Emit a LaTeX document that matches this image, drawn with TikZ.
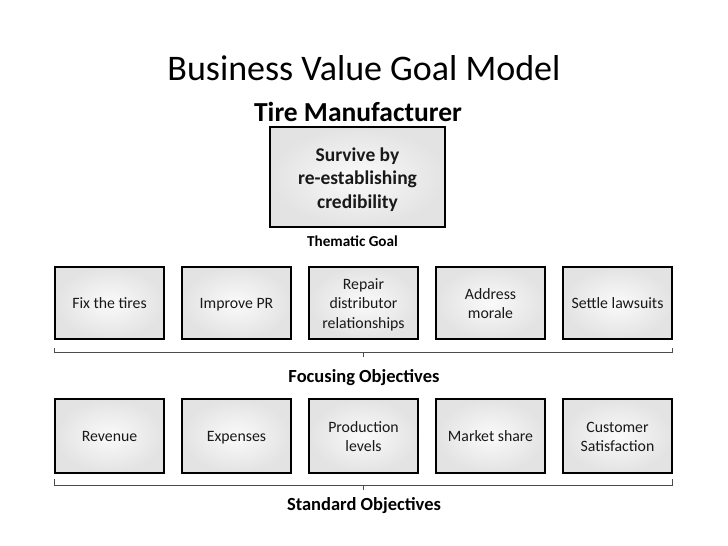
\documentclass[tikz,border=0pt]{standalone}
\usepackage{fontspec}
\setmainfont{Carlito}
\newcommand{\bstr}{\rule[-3.9pt]{0pt}{19.5pt}}
\newcommand{\tstr}{\rule[-4.2pt]{0pt}{23.5pt}}
\begin{document}
\begin{tikzpicture}[x=1pt,y=-1pt,
  box/.style={draw=black,line width=1.8pt,minimum width=109pt,minimum height=72pt,
    inner sep=0pt,align=center,inner color=gray!4,outer color=gray!22,
    font=\fontsize{15.8}{19.5}\selectfont,text=black!90},
  topbox/.style={box,minimum width=175pt,minimum height=100pt,
    font=\fontsize{19.5}{23.5}\selectfont\bfseries},
  lbl/.style={font=\fontsize{18.5}{22}\selectfont\bfseries,inner sep=0pt},
  bracket/.style={draw=black!70,line width=0.9pt}]
\useasboundingbox (0,0) rectangle (728,546);
\node[font=\fontsize{36}{40}\selectfont,inner sep=0pt] (title) at (364,68) {Business Value Goal Model};
\node[font=\fontsize{27.5}{31}\selectfont\bfseries,inner sep=0pt] (sub) at (358,112) {Tire Manufacturer};
\node[topbox] (goal) at (357.5,177) {\tstr Survive by\\\tstr re-establishing\\\tstr credibility};
\node[lbl,font=\fontsize{15.2}{18}\selectfont\bfseries] (goallbl) at (352.5,241) {Thematic Goal};
% focusing objectives
\node[box] (f1) at (109.5,303) {\bstr Fix the tires};
\node[box] (f2) at (236.5,303) {\bstr Improve PR};
\node[box] (f3) at (363.5,303) {\bstr Repair\\\bstr distributor\\\bstr relationships};
\node[box] (f4) at (490.5,303) {\bstr Address\\\bstr morale};
\node[box] (f5) at (617.5,303) {\bstr Settle lawsuits};
\draw[bracket] ([yshift=-8pt]f1.south west) -- ([yshift=-13pt]f1.south west) -- ([yshift=-13pt]f5.south east) -- ([yshift=-8pt]f5.south east);
\draw[bracket] ([yshift=-13pt]f3.south) -- ([yshift=-17pt]f3.south);
\node[lbl] (flbl) at (364,378) {Focusing Objectives};
% standard objectives
\node[box,minimum height=74pt] (s1) at (109.5,436) {\bstr Revenue};
\node[box,minimum height=74pt] (s2) at (236.5,436) {\bstr Expenses};
\node[box,minimum height=74pt] (s3) at (363.5,436) {\bstr Production\\\bstr levels};
\node[box,minimum height=74pt] (s4) at (490.5,436) {\bstr Market share};
\node[box,minimum height=74pt] (s5) at (617.5,436) {\bstr Customer\\\bstr Satisfaction};
\draw[bracket] ([yshift=-5pt]s1.south west) -- ([yshift=-12pt]s1.south west) -- ([yshift=-12pt]s5.south east) -- ([yshift=-5pt]s5.south east);
\draw[bracket] ([yshift=-12pt]s3.south) -- ([yshift=-16pt]s3.south);
\node[lbl] (slbl) at (364,506) {Standard Objectives};
\end{tikzpicture}
\end{document}
